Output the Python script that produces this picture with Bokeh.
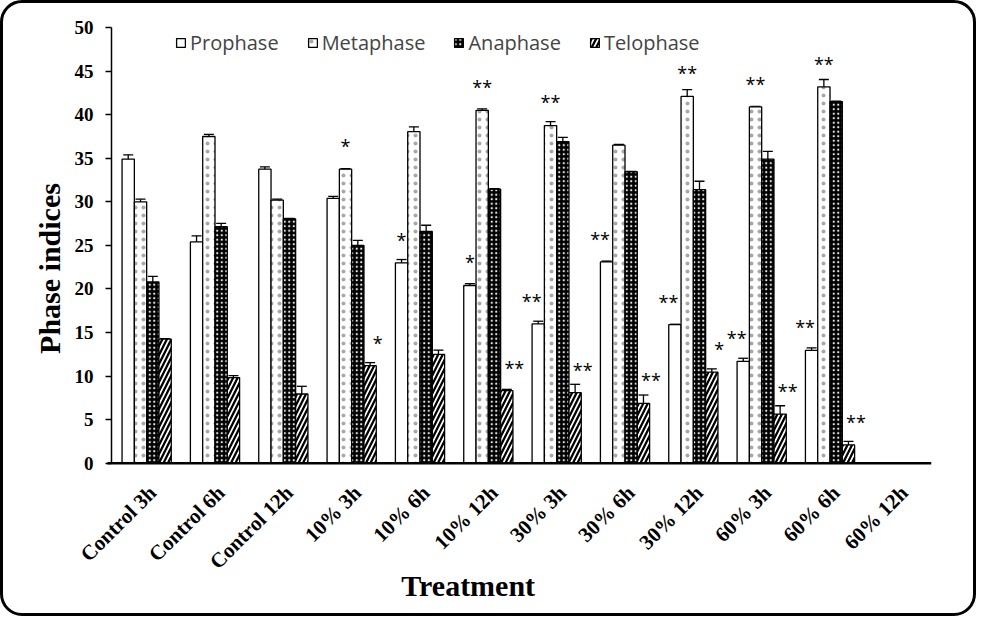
import math
from bokeh.plotting import figure
from bokeh.models import (ColumnDataSource, Range1d, Whisker, TeeHead, Legend, LegendItem)
from bokeh.transform import dodge
from bokeh.core.properties import value
from bokeh.embed import file_html
from bokeh.resources import INLINE

# ---------------- data ----------------
categories = ["Control 3h", "Control 6h", "Control 12h", "10% 3h", "10% 6h", "10% 12h",
              "30% 3h", "30% 6h", "30% 12h", "60% 3h", "60% 6h", "60% 12h"]

prophase = [34.9, 25.4, 33.75, 30.4, 23.0, 20.4, 16.0, 23.1, 15.9, 11.7, 12.95, 0]
prophase_err = [0.5, 0.7, 0.27, 0.23, 0.38, 0.21, 0.3, 0.1, 0.05, 0.35, 0.3, 0]
prophase_sig = ["", "", "", "", "*", "*", "**", "**", "**", "**", "**", ""]

metaphase = [30.0, 37.5, 30.2, 33.75, 38.05, 40.5, 38.75, 36.5, 42.1, 40.9, 43.2, 0]
metaphase_err = [0.3, 0.23, 0.1, 0.05, 0.56, 0.17, 0.46, 0.1, 0.77, 0.05, 0.84, 0]
metaphase_sig = ["", "", "", "*", "", "**", "**", "", "**", "**", "**", ""]

anaphase = [20.8, 27.15, 28.05, 25.0, 26.6, 31.45, 36.9, 33.45, 31.4, 34.9, 41.5, 0]
anaphase_err = [0.65, 0.38, 0.05, 0.58, 0.71, 0.05, 0.5, 0.05, 0.96, 0.88, 0.05, 0]
anaphase_sig = ["", "", "", "", "", "", "", "", "", "", "", ""]

telophase = [14.25, 9.83, 7.95, 11.2, 12.5, 8.33, 8.1, 6.87, 10.45, 5.64, 2.1, 0]
telophase_err = [0.05, 0.23, 0.88, 0.35, 0.48, 0.15, 0.96, 0.96, 0.38, 0.96, 0.4, 0]
telophase_sig = ["", "", "", "*", "", "**", "**", "**", "*", "**", "**", ""]

series_names = ["Prophase", "Metaphase", "Anaphase", "Telophase"]
y_ticks = [0, 5, 10, 15, 20, 25, 30, 35, 40, 45, 50]

x_title = "Treatment"
y_title = "Phase indices"

# category slots: category k occupies [k, k+1] on the x scale
xpos = [k + 0.5 for k in range(len(categories))]

# ---------------- figure ----------------
# the frame also holds the rotated category labels, the tick labels and both titles
p = figure(x_range=Range1d(-1.58, len(categories)), y_range=Range1d(-17.93, 52.76),
           width=976, height=616, output_backend="svg", toolbar_location=None,
           min_border_left=0, min_border_right=48, min_border_top=0, min_border_bottom=0,
           styles={"border": "3px solid black", "border-radius": "22px"})
p.border_fill_color = None
p.background_fill_color = None
p.outline_line_color = None
p.xgrid.grid_line_color = None
p.ygrid.grid_line_color = None
p.xaxis.visible = False

styles = [
    dict(fill_color="white", hatch_pattern=" "),
    dict(fill_color="white", hatch_pattern=".", hatch_scale=8, hatch_weight=0.8, hatch_color="#a8a8a8"),
    dict(fill_color="black", hatch_pattern=".", hatch_scale=4.5, hatch_weight=1.6, hatch_color="#e8e8e8"),
    dict(fill_color="white", hatch_pattern="/", hatch_scale=9, hatch_weight=2.3, hatch_color="black"),
]

vals = [prophase, metaphase, anaphase, telophase]
errs = [prophase_err, metaphase_err, anaphase_err, telophase_err]
sigs = [prophase_sig, metaphase_sig, anaphase_sig, telophase_sig]

bar_w = 0.18
offsets = [(i - 1.5) * bar_w + 0.015 for i in range(4)]
star_dx = [lambda s: -6.5 if s == "**" else 0.0, lambda s: 0.0, lambda s: 0.0, lambda s: 7.5]

legend_items = []
for i in range(4):
    src = ColumnDataSource(dict(x=xpos, top=vals[i]))
    r = p.vbar(x=dodge("x", offsets[i]), top="top", bottom=0, width=bar_w,
               source=src, line_color="black", line_width=1.3, **styles[i])
    legend_items.append(LegendItem(label=series_names[i], renderers=[r]))

    idx = [k for k in range(len(categories)) if vals[i][k] > 0]
    wsrc = ColumnDataSource(dict(x=[xpos[k] for k in idx],
                                 upper=[vals[i][k] + errs[i][k] for k in idx],
                                 lower=[vals[i][k] - errs[i][k] for k in idx]))
    w = Whisker(base=dodge("x", offsets[i]), upper="upper", lower="lower",
                source=wsrc, line_color="black", line_width=1.3,
                upper_head=TeeHead(size=10, line_width=1.3, line_color="black"),
                lower_head=TeeHead(size=10, line_width=1.3, line_color="black"))
    p.add_layout(w)

    sidx = [k for k in range(len(categories)) if sigs[i][k]]
    ssrc = ColumnDataSource(dict(x=[xpos[k] for k in sidx],
                                 y=[vals[i][k] + 3.0 for k in sidx],
                                 t=[sigs[i][k] for k in sidx],
                                 dx=[star_dx[i](sigs[i][k]) for k in sidx]))
    p.text(x=dodge("x", offsets[i]), y="y", text="t", source=ssrc,
           x_offset="dx", y_offset=3, text_align="center", text_baseline="alphabetic",
           text_font=value("Open Sans"), text_font_size="18px", text_color="black")

# x axis baseline (from just left of the y axis to the last category)
p.segment(x0=[-0.06], y0=[0], x1=[len(categories)], y1=[0], line_color="black", line_width=2.5)

# category labels, rotated 45 degrees, ending just under each category
lab_src = ColumnDataSource(dict(x=xpos, y=[0] * len(categories), t=categories))
p.text(x="x", y="y", text="t", source=lab_src, angle=math.pi / 4,
       x_offset=7, y_offset=26, text_align="right", text_baseline="middle",
       text_font=value("Liberation Serif"), text_font_style="bold",
       text_font_size="21px", text_color="black")

# titles
p.text(x=[5.22], y=[0], text=[x_title], y_offset=122,
       text_align="center", text_baseline="middle",
       text_font=value("Liberation Serif"), text_font_style="bold",
       text_font_size="30px", text_color="black")
p.text(x=[-0.9], y=[22.35], text=[y_title], angle=math.pi / 2,
       text_align="center", text_baseline="middle",
       text_font=value("Liberation Serif"), text_font_style="bold",
       text_font_size="30px", text_color="black")

legend = Legend(items=legend_items, orientation="horizontal", location=(172, 563),
                glyph_width=11, glyph_height=11, label_standoff=4, spacing=28, padding=0,
                margin=0, border_line_color=None, background_fill_alpha=0,
                label_text_font="Open Sans", label_text_font_size="20px", label_height=11)
p.add_layout(legend, "center")

# y axis, drawn at x = 0 inside the frame
p.yaxis.fixed_location = 0
p.yaxis.ticker = y_ticks
p.yaxis.bounds = (0, 50)
p.yaxis.axis_line_width = 1.5
p.yaxis.axis_line_color = "black"
p.yaxis.major_tick_out = 6
p.yaxis.major_tick_in = 0
p.yaxis.major_tick_line_width = 1.3
p.yaxis.minor_tick_line_color = None
p.yaxis.major_label_standoff = 12
p.yaxis.major_label_text_font = "Liberation Serif"
p.yaxis.major_label_text_font_style = "bold"
p.yaxis.major_label_text_font_size = "19px"
p.yaxis.major_label_text_color = "black"

open("out.html", "w").write(file_html(p, INLINE))
